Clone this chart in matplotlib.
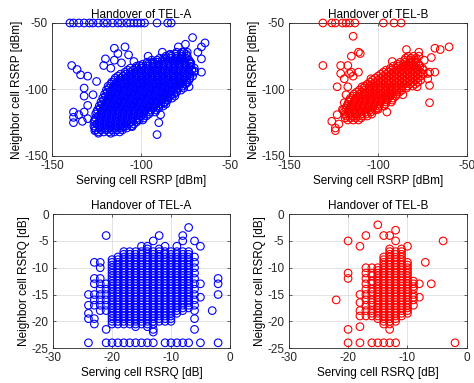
import matplotlib
matplotlib.use("Agg")
import matplotlib.pyplot as plt

plt.rcParams['font.family'] = ['Liberation Sans', 'DejaVu Sans']
plt.rcParams['axes.unicode_minus'] = False

# RSRP panels: (neighbor RSRP, [serving RSRP values]) per row, dBm
a_rsrp_rows = [
    (-50, [-140, -138, -135, -132, -129, -127, -124, -121, -119, -116, -113, -111, -108, -106,
           -104, -102, -100, -98, -91, -85, -83]),
    (-61, [-71]), (-65, [-64]), (-66, [-75]), (-68, [-66, -79, -109]), (-69, [-115]),
    (-72, [-76, -68, -88]), (-73, [-113]), (-74, [-107, -84]), (-75, [-96]),
    (-77, [-120, -66]), (-78, [-115]), (-79, [-80, -104]), (-80, [-93, -111, -72]),
    (-82, [-139, -121, -101]), (-84, [-117]), (-85, [-136, -92]), (-86, [-70]),
    (-87, [-66]), (-89, [-134]), (-90, [-130]), (-94, [-125]), (-95, [-74, -78]),
    (-98, [-73]), (-99, [-132]), (-104, [-127, -83]), (-105, [-132]), (-106, [-85]),
    (-110, [-87]), (-112, [-130]), (-117, [-138, -132]), (-119, [-135, -89]),
    (-121, [-138]), (-122, [-130]), (-123, [-101]), (-124, [-133]), (-125, [-138, -90]),
    (-128, [-110, -105]), (-129, [-115]), (-131, [-126]), (-133, [-124, -117]), (-134, [-91]),
    (-132, [-124, -121, -118, -115, -112]),
    (-130.5, [-125.5, -122.5, -119.5, -116.5, -113.5, -110.5]),
    (-129, [-126, -123, -120, -117, -114, -111, -108]),
    (-127.5, [-126.5, -123.5, -120.5, -117.5, -114.5, -111.5, -108.5, -105.5]),
    (-126, [-125, -122, -119, -116, -113, -110, -107, -104]),
    (-124.5, [-126.5, -123.5, -120.5, -117.5, -114.5, -111.5, -108.5, -105.5, -102.5]),
    (-123, [-126, -123, -120, -117, -114, -111, -108, -105, -102, -99]),
    (-121.5, [-125.5, -122.5, -119.5, -116.5, -113.5, -110.5, -107.5, -104.5, -101.5, -98.5]),
    (-120, [-124, -121, -118, -115, -112, -109, -106, -103, -100, -97]),
    (-118.5, [-125.5, -122.5, -119.5, -116.5, -113.5, -110.5, -107.5, -104.5, -101.5, -98.5,
              -95.5]),
    (-117, [-125, -122, -119, -116, -113, -110, -107, -104, -101, -98, -95, -92]),
    (-115.5, [-124.5, -121.5, -118.5, -115.5, -112.5, -109.5, -106.5, -103.5, -100.5, -97.5,
              -94.5, -91.5]),
    (-114, [-123, -120, -117, -114, -111, -108, -105, -102, -99, -96, -93, -90]),
    (-112.5, [-123.5, -120.5, -117.5, -114.5, -111.5, -108.5, -105.5, -102.5, -99.5, -96.5,
              -93.5, -90.5, -87.5]),
    (-111, [-122, -119, -116, -113, -110, -107, -104, -101, -98, -95, -92, -89, -86]),
    (-109.5, [-122.5, -119.5, -116.5, -113.5, -110.5, -107.5, -104.5, -101.5, -98.5, -95.5,
              -92.5, -89.5, -86.5]),
    (-108, [-121, -118, -115, -112, -109, -106, -103, -100, -97, -94, -91, -88, -85]),
    (-106.5, [-121.5, -118.5, -115.5, -112.5, -109.5, -106.5, -103.5, -100.5, -97.5, -94.5,
              -91.5, -88.5, -85.5, -82.5]),
    (-105, [-120, -117, -114, -111, -108, -105, -102, -99, -96, -93, -90, -87, -84, -81]),
    (-103.5, [-120.5, -117.5, -114.5, -111.5, -108.5, -105.5, -102.5, -99.5, -96.5, -93.5,
              -90.5, -87.5, -84.5, -81.5]),
    (-102, [-119, -116, -113, -110, -107, -104, -101, -98, -95, -92, -89, -86, -83, -80]),
    (-100.5, [-119.5, -116.5, -113.5, -110.5, -107.5, -104.5, -101.5, -98.5, -95.5, -92.5,
              -89.5, -86.5, -83.5, -80.5, -77.5]),
    (-99, [-118, -115, -112, -109, -106, -103, -100, -97, -94, -91, -88, -85, -82, -79, -76]),
    (-97.5, [-118.5, -115.5, -112.5, -109.5, -106.5, -103.5, -100.5, -97.5, -94.5, -91.5,
             -88.5, -85.5, -82.5, -79.5, -76.5]),
    (-96, [-117, -114, -111, -108, -105, -102, -99, -96, -93, -90, -87, -84, -81, -78, -75]),
    (-94.5, [-116.5, -113.5, -110.5, -107.5, -104.5, -101.5, -98.5, -95.5, -92.5, -89.5,
             -86.5, -83.5, -80.5, -77.5, -74.5]),
    (-93, [-115, -112, -109, -106, -103, -100, -97, -94, -91, -88, -85, -82, -79, -76, -73]),
    (-91.5, [-114.5, -111.5, -108.5, -105.5, -102.5, -99.5, -96.5, -93.5, -90.5, -87.5,
             -84.5, -81.5, -78.5, -75.5, -72.5]),
    (-90, [-113, -110, -107, -104, -101, -98, -95, -92, -89, -86, -83, -80, -77, -74, -71]),
    (-88.5, [-111.5, -108.5, -105.5, -102.5, -99.5, -96.5, -93.5, -90.5, -87.5, -84.5, -81.5,
             -78.5, -75.5, -72.5]),
    (-87, [-109, -106, -103, -100, -97, -94, -91, -88, -85, -82, -79, -76, -73, -70]),
    (-85.5, [-107.5, -104.5, -101.5, -98.5, -95.5, -92.5, -89.5, -86.5, -83.5, -80.5, -77.5,
             -74.5, -71.5]),
    (-84, [-106, -103, -100, -97, -94, -91, -88, -85, -82, -79, -76, -73, -70]),
    (-82.5, [-102.5, -99.5, -96.5, -93.5, -90.5, -87.5, -84.5, -81.5, -78.5, -75.5, -72.5]),
    (-81, [-99, -96, -93, -90, -87, -84, -81, -78, -75, -72]),
    (-79.5, [-96.5, -93.5, -90.5, -87.5, -84.5, -81.5, -78.5, -75.5, -72.5]),
    (-78, [-94, -91, -88, -85, -82, -79, -76, -73]),
    (-76.5, [-89.5, -86.5, -83.5, -80.5, -77.5, -74.5]),
    (-75, [-86, -83, -80, -77, -74]),
    (-73.5, [-83.5, -80.5, -77.5, -74.5]),
    (-72, [-80, -77, -74]),
]

b_rsrp_rows = [
    (-50, [-131, -126, -124, -120, -118, -116, -113, -97, -91, -87]),
    (-60, [-114]), (-68, [-60]), (-69, [-68]), (-70, [-65, -84]), (-72, [-111, -77]),
    (-73, [-110]), (-75, [-115]), (-76, [-70]), (-78, [-74]), (-79, [-92]),
    (-82, [-131, -121, -117]), (-87, [-115, -111, -71, -68]), (-88, [-121, -116, -72]),
    (-90, [-114]), (-92, [-119, -104, -72]), (-97, [-71]), (-98, [-123, -117, -109, -78]),
    (-104, [-118, -86]), (-110, [-119, -71]), (-115, [-120, -100]), (-117, [-95]),
    (-119, [-123]), (-124, [-126]), (-126, [-122]), (-129, [-124]), (-131, [-124]),
    (-123, [-117, -114, -111]),
    (-121.5, [-118.5, -115.5, -112.5, -109.5]),
    (-120, [-118, -115, -112, -109, -106]),
    (-118.5, [-118.5, -115.5, -112.5, -109.5, -106.5, -103.5]),
    (-117, [-119, -116, -113, -110, -107, -104]),
    (-115.5, [-119.5, -116.5, -113.5, -110.5, -107.5, -104.5, -101.5]),
    (-114, [-118, -115, -112, -109, -106, -103, -100]),
    (-112.5, [-117.5, -114.5, -111.5, -108.5, -105.5, -102.5, -99.5, -96.5]),
    (-111, [-117, -114, -111, -108, -105, -102, -99, -96]),
    (-109.5, [-116.5, -113.5, -110.5, -107.5, -104.5, -101.5, -98.5, -95.5, -92.5]),
    (-108, [-116, -113, -110, -107, -104, -101, -98, -95, -92]),
    (-106.5, [-115.5, -112.5, -109.5, -106.5, -103.5, -100.5, -97.5, -94.5, -91.5]),
    (-105, [-114, -111, -108, -105, -102, -99, -96, -93, -90]),
    (-103.5, [-113.5, -110.5, -107.5, -104.5, -101.5, -98.5, -95.5, -92.5, -89.5]),
    (-102, [-112, -109, -106, -103, -100, -97, -94, -91, -88]),
    (-100.5, [-110.5, -107.5, -104.5, -101.5, -98.5, -95.5, -92.5, -89.5, -86.5]),
    (-99, [-108, -105, -102, -99, -96, -93, -90, -87, -84]),
    (-97.5, [-107.5, -104.5, -101.5, -98.5, -95.5, -92.5, -89.5, -86.5, -83.5, -80.5]),
    (-96, [-106, -103, -100, -97, -94, -91, -88, -85, -82, -79]),
    (-94.5, [-104.5, -101.5, -98.5, -95.5, -92.5, -89.5, -86.5, -83.5, -80.5, -77.5]),
    (-93, [-103, -100, -97, -94, -91, -88, -85, -82, -79, -76]),
    (-91.5, [-101.5, -98.5, -95.5, -92.5, -89.5, -86.5, -83.5, -80.5, -77.5]),
    (-90, [-100, -97, -94, -91, -88, -85, -82, -79, -76]),
    (-88.5, [-98.5, -95.5, -92.5, -89.5, -86.5, -83.5, -80.5, -77.5, -74.5]),
    (-87, [-97, -94, -91, -88, -85, -82, -79, -76]),
    (-85.5, [-95.5, -92.5, -89.5, -86.5, -83.5, -80.5, -77.5, -74.5]),
    (-84, [-93, -90, -87, -84, -81, -78, -75]),
    (-82.5, [-91.5, -88.5, -85.5, -82.5, -79.5, -76.5]),
    (-81, [-89, -86, -83, -80, -77]),
    (-79.5, [-87.5, -84.5, -81.5, -78.5]),
    (-78, [-85, -82, -79]),
    (-76.5, [-84.5, -81.5, -78.5]),
    (-75, [-83, -80, -77]),
]

# RSRQ panels: (serving RSRQ, [neighbor RSRQ values]) per column, dB
a_rsrq_cols = [
    (-24, [-15, -17, -18.5, -19.5, -24]),
    (-23, [-9, -12, -13, -15, -16, -17, -19.5, -20.5]),
    (-22, [-9, -10, -12, -13, -14, -15, -16, -17, -18]),
    (-21, [-4, -13, -14, -15, -16, -17, -18, -21.5, -24]),
    (-20, [-8.5, -9, -9.5, -10, -10.5, -11, -11.5, -12, -12.5, -13, -13.5, -14, -14.5, -15,
           -15.5, -16, -16.5, -17, -17.5, -18, -18.5, -19, -19.5, -20, -20.5, -24]),
    (-19, [-8, -8.5, -9, -9.5, -10, -10.5, -11, -11.5, -12, -12.5, -13, -13.5, -14, -14.5, -15,
           -15.5, -16, -16.5, -17, -17.5, -18, -18.5, -19, -19.5, -20, -20.5, -24]),
    (-18, [-7, -7.5, -8, -8.5, -9, -9.5, -10, -10.5, -11, -11.5, -12, -12.5, -13, -13.5, -14,
           -14.5, -15, -15.5, -16, -16.5, -17, -17.5, -18, -18.5, -19, -19.5, -20, -20.5, -24]),
    (-17, [-7, -7.5, -8, -8.5, -9, -9.5, -10, -10.5, -11, -11.5, -12, -12.5, -13, -13.5, -14,
           -14.5, -15, -15.5, -16, -16.5, -17, -17.5, -18, -18.5, -19, -19.5, -20, -20.5, -24]),
    (-16, [-7, -7.5, -8, -8.5, -9, -9.5, -10, -10.5, -11, -11.5, -12, -12.5, -13, -13.5, -14,
           -14.5, -15, -15.5, -16, -16.5, -17, -17.5, -18, -18.5, -19, -19.5, -20, -20.5, -21,
           -24]),
    (-15, [-6, -7, -7.5, -8, -8.5, -9, -9.5, -10, -10.5, -11, -11.5, -12, -12.5, -13, -13.5,
           -14, -14.5, -15, -15.5, -16, -16.5, -17, -17.5, -18, -18.5, -19, -19.5, -20, -20.5,
           -24]),
    (-14, [-6, -6.5, -7, -7.5, -8, -8.5, -9, -9.5, -10, -10.5, -11, -11.5, -12, -12.5, -13,
           -13.5, -14, -14.5, -15, -15.5, -16, -16.5, -17, -17.5, -18, -18.5, -19, -19.5, -20,
           -20.5, -21, -24]),
    (-13, [-5, -7, -7.5, -8, -8.5, -9, -9.5, -10, -10.5, -11, -11.5, -12, -12.5, -13, -13.5,
           -14, -14.5, -15, -15.5, -16, -16.5, -17, -17.5, -18, -18.5, -19, -19.5, -20, -20.5,
           -21.5, -22, -24]),
    (-12, [-4, -6.5, -7, -7.5, -8, -8.5, -9, -9.5, -10, -10.5, -11, -11.5, -12, -12.5, -13,
           -13.5, -14, -14.5, -15, -15.5, -16, -16.5, -17, -17.5, -18, -18.5, -19, -19.5, -20]),
    (-11, [-6, -7, -7.5, -8, -8.5, -9, -9.5, -10, -10.5, -11, -11.5, -12, -12.5, -13, -13.5,
           -14, -14.5, -15, -15.5, -16, -16.5, -17, -17.5, -18, -18.5, -19, -19.5, -20, -24]),
    (-10, [-7, -7.5, -8, -8.5, -9, -9.5, -10, -10.5, -11, -11.5, -12, -12.5, -13, -13.5, -14,
           -14.5, -15, -15.5, -16, -16.5, -17, -17.5, -18, -18.5, -19, -19.5, -20, -24]),
    (-9, [-6, -7, -7.5, -8, -8.5, -9, -9.5, -10, -10.5, -11, -11.5, -12, -12.5, -13, -13.5,
          -14, -14.5, -15, -15.5, -16, -16.5, -17, -17.5, -18, -18.5, -24]),
    (-8, [-4, -5, -7, -7.5, -8, -8.5, -9, -9.5, -10, -10.5, -11, -11.5, -12, -12.5, -13, -13.5,
          -14, -14.5, -15, -15.5, -16, -16.5, -17, -17.5, -18, -24]),
    (-7, [-2.5, -7, -7.5, -8, -8.5, -9, -9.5, -10, -10.5, -11, -11.5, -12, -12.5, -13, -13.5,
          -14, -14.5, -15, -15.5, -16, -16.5, -17, -17.5, -24]),
    (-6, [-5, -8, -9, -10, -11, -12, -13, -14, -15, -16, -17, -18, -19.5, -21.5]),
    (-5, [-6, -13, -15.5, -24]),
    (-3, [-18]),
    (-2, [-12, -13, -15, -24]),
]

b_rsrq_cols = [
    (-22, [-16]),
    (-20, [-5, -11, -12, -21.5, -24]),
    (-18, [-6, -15, -16.5, -18, -19, -21, -24]),
    (-17, [-4, -10, -11, -12, -13, -14, -15, -16, -17, -18, -19]),
    (-16, [-10, -11, -11.5, -12.5, -13, -14, -14.5, -15, -16, -16.5, -17, -18, -18.5, -19, -24]),
    (-15, [-2, -10, -10.5, -11, -11.5, -12, -12.5, -13, -13.5, -14, -14.5, -15, -15.5, -16,
           -16.5, -17, -17.5, -18, -18.5, -19, -19.5, -24]),
    (-14, [-4, -8, -8.5, -9, -9.5, -10, -10.5, -11, -11.5, -12, -12.5, -13, -13.5, -14, -14.5,
           -15, -15.5, -16, -16.5, -17, -17.5, -18, -18.5, -19, -19.5, -20, -20.5, -24]),
    (-13, [-4, -6.5, -7, -7.5, -8, -8.5, -9, -9.5, -10, -10.5, -11, -11.5, -12, -12.5, -13,
           -13.5, -14, -14.5, -15, -15.5, -16, -16.5, -17, -17.5, -18, -18.5, -19, -19.5, -20,
           -20.5, -21.5, -24]),
    (-12, [-3, -5, -7, -7.5, -8, -8.5, -9, -9.5, -10, -10.5, -11, -11.5, -12, -12.5, -13,
           -13.5, -14, -14.5, -15, -15.5, -16, -16.5, -17, -17.5, -18, -18.5, -19, -19.5, -20,
           -24]),
    (-11, [-6.5, -7, -7.5, -8, -8.5, -9, -9.5, -10, -10.5, -11, -11.5, -12, -12.5, -13, -13.5,
           -14, -14.5, -15, -15.5, -16, -16.5, -17, -17.5, -18, -18.5, -19]),
    (-10, [-6, -9, -9.5, -10, -10.5, -11, -11.5, -12, -12.5, -13, -13.5, -14, -14.5, -15,
           -15.5, -16, -16.5, -17, -17.5, -18, -18.5]),
    (-9, [-12.5, -13, -13.5, -14, -15, -15.5, -16, -17]),
    (-8, [-13, -15.5]),
    (-7, [-9]),
    (-6, [-13]),
    (-4, [-5]),
    (-2, [-24]),
]


def unpack_rows(rows):
    serv, neigh = [], []
    for y, xs in rows:
        serv += xs
        neigh += [y] * len(xs)
    return serv, neigh


def unpack_cols(cols):
    serv, neigh = [], []
    for x, ys in cols:
        serv += [x] * len(ys)
        neigh += ys
    return serv, neigh


fig = plt.figure(figsize=(4.74, 3.83), dpi=100)

panels = [
    ([0.110, 0.593, 0.375, 0.347], unpack_rows(a_rsrp_rows), 'b', 'TEL-A', 'RSRP'),
    ([0.610, 0.593, 0.375, 0.347], unpack_rows(b_rsrp_rows), 'r', 'TEL-B', 'RSRP'),
    ([0.112, 0.091, 0.373, 0.350], unpack_cols(a_rsrq_cols), 'b', 'TEL-A', 'RSRQ'),
    ([0.609, 0.091, 0.376, 0.350], unpack_cols(b_rsrq_cols), 'r', 'TEL-B', 'RSRQ'),
]

for rect, (sx, sy), col, name, kind in panels:
    ax = fig.add_axes(rect)
    ax.set_axisbelow(True)
    ax.grid(True, color='#dedede', linewidth=0.6)
    ax.scatter(sx, sy, s=30, facecolors='none', edgecolors=col, linewidths=0.8,
               clip_on=False, zorder=3)
    if kind == 'RSRP':
        ax.set_xlim(-150, -50)
        ax.set_ylim(-150, -50)
        ax.set_xticks([-150, -100, -50])
        ax.set_yticks([-150, -100, -50])
        ax.set_xlabel('Serving cell RSRP [dBm]', fontsize=8.5, labelpad=2)
        ax.set_ylabel('Neighbor cell RSRP [dBm]', fontsize=8.5, labelpad=1)
    else:
        ax.set_xlim(-30, 0)
        ax.set_ylim(-25, 0)
        ax.set_xticks([-30, -20, -10, 0])
        ax.set_yticks([-25, -20, -15, -10, -5, 0])
        ax.set_xlabel('Serving cell RSRQ [dB]', fontsize=8.5, labelpad=2)
        ax.set_ylabel('Neighbor cell RSRQ [dB]', fontsize=8.5, labelpad=1)
    ax.set_title('Handover of ' + name, fontsize=8.5, pad=3.5)
    ax.tick_params(direction='in', length=2, width=0.5, labelsize=8.5,
                   top=True, right=True, colors='#262626', pad=3)
    for sp in ax.spines.values():
        sp.set_linewidth(0.6)
        sp.set_color('#262626')

fig.savefig('out.png', dpi=100)
